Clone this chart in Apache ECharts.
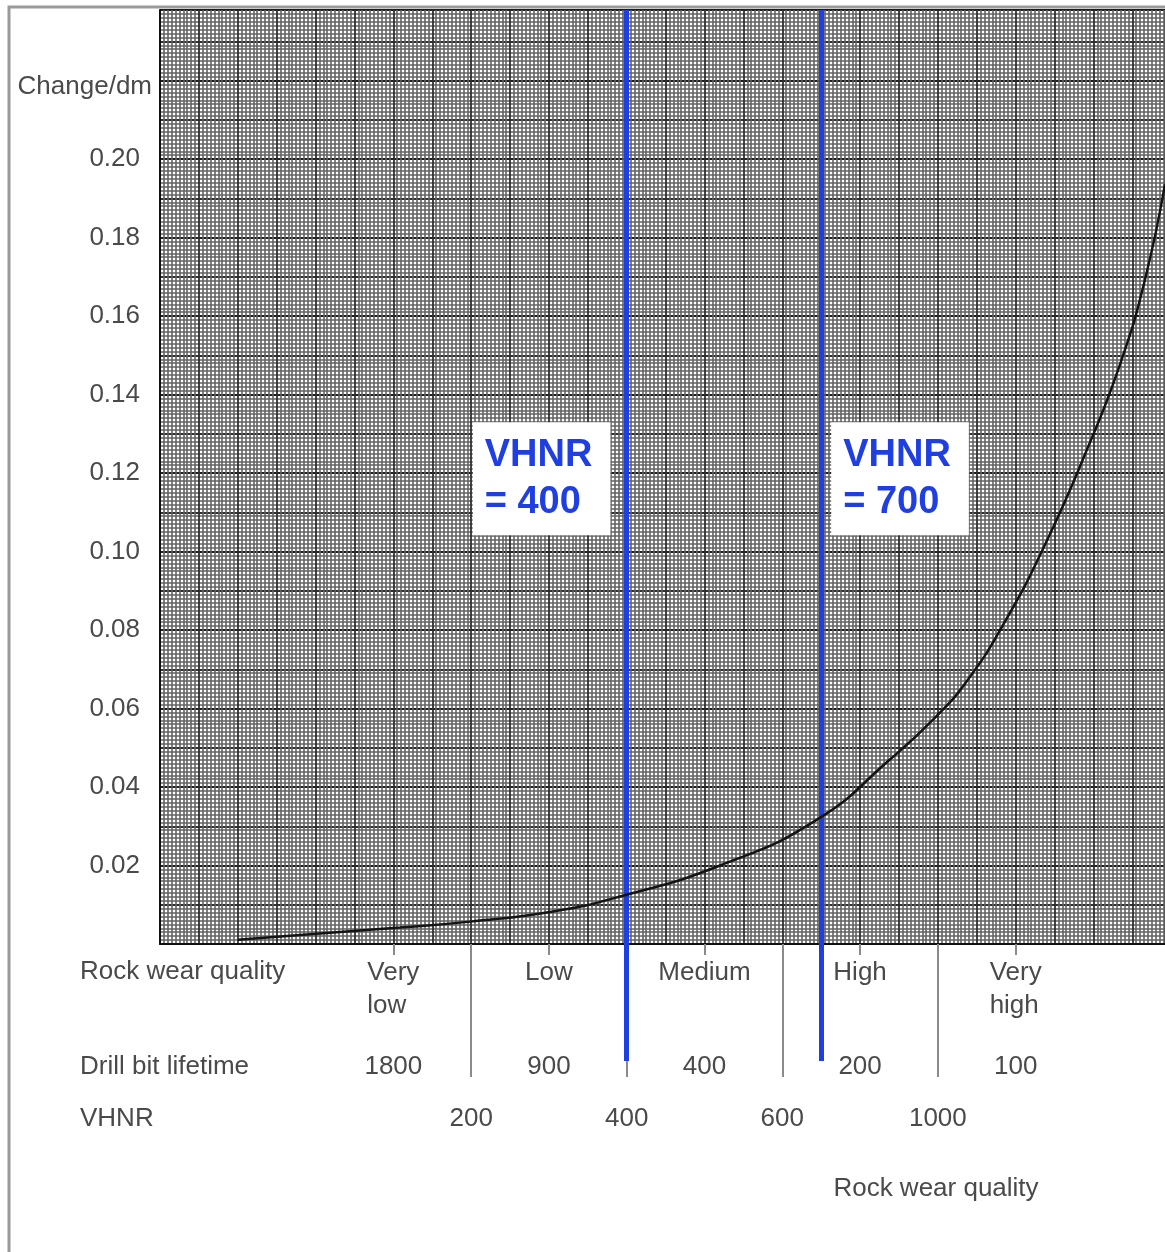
<!DOCTYPE html>
<html>
<head>
<meta charset="utf-8">
<script src="https://cdn.jsdelivr.net/npm/echarts@6/dist/echarts.min.js"></script>
<style>
  html, body { margin: 0; padding: 0; background: #ffffff; }
  #chart { width: 1165px; height: 1252px; }
</style>
</head>
<body>
<div id="chart"></div>
<script>
// Rock wear quality classes along the bottom scale (one unit of the x axis per class)
const rockWearClasses = ['Very\nlow', 'Low', 'Medium', 'High', 'Very\nhigh'];
// Drill bit lifetime for each class
const drillBitLifetime = ['1800', '900', '400', '200', '100'];
// VHNR values at the class boundaries
const vhnrTicks = [200, 400, 600, 1000];
// Marked VHNR values
const vhnrMarkers = [400, 700];

// Wear curve: position on the class scale and change per dm
const curvePos    = [0.501, 1.028, 1.543, 1.993, 2.526, 2.957, 3.600, 4.223, 4.692, 4.982, 5.194, 5.432, 5.689, 5.946, 6.171, 6.332, 6.460];
const curveChange = [0.0011, 0.0027, 0.0042, 0.0057, 0.0083, 0.0121, 0.0200, 0.0317, 0.0470, 0.0577, 0.0674, 0.0822, 0.1018, 0.1248, 0.1477, 0.1694, 0.1936];

// Class scale layout: class i spans [i + 1, i + 2]; boundaries sit on whole numbers
const FIRST_BOUNDARY = 2;
const classCenters = rockWearClasses.map((_, i) => FIRST_BOUNDARY - 0.5 + i);
const boundaryPos = vhnrTicks.map((_, i) => FIRST_BOUNDARY + i);

// VHNR -> class-scale position, linear between the boundary ticks
function vhnrPos(v) {
  for (let i = 0; i < vhnrTicks.length - 1; i++) {
    if (v <= vhnrTicks[i + 1]) {
      return boundaryPos[i] + (v - vhnrTicks[i]) / (vhnrTicks[i + 1] - vhnrTicks[i]);
    }
  }
  return boundaryPos[boundaryPos.length - 1];
}

const X_MAX = 6.46;
const Y_MAX = 0.238;
const Y_EXT_MIN = -0.0298;   // lower end of the marker overlay (same vertical scale)
const LABEL_LEVEL = 0.1187;  // height of the marker captions

const FONT = '"Liberation Sans", Arial, Helvetica, sans-serif';
const TEXT = '#4a4a4a';
const BLUE = '#1f3fe0';
const FS = 26;

const chart = echarts.init(document.getElementById('chart'), null, { renderer: 'canvas' });

const curveData = curvePos.map((p, i) => [p, curveChange[i]]);

// caption boxes: the first sits left of its rule, the second right of it
const captionOffsets = [[-154, -56], [10, -56]];
const markerLabels = vhnrMarkers.map((v, i) => ({
  coord: [vhnrPos(v), LABEL_LEVEL],
  symbol: 'rect',
  symbolSize: 0,
  label: {
    show: true,
    position: captionOffsets[i],
    formatter: 'VHNR\n= ' + v,
    backgroundColor: '#ffffff',
    padding: [10, 18, 9, 12],
    color: BLUE,
    fontFamily: FONT,
    fontWeight: 'bold',
    fontSize: 38,
    lineHeight: 47,
    align: 'left',
    verticalAlign: 'top'
  }
}));

const baseX = {
  type: 'value', min: 0, max: X_MAX, position: 'bottom',
  axisLine: { show: false, onZero: false },
  axisTick: { show: false },
  axisLabel: { show: false },
  splitLine: { show: false }
};

const GRID_MINOR = { color: '#626262', width: 1.6 };
const GRID_MAJOR = { color: '#303030', width: 1.8 };

const option = {
  animation: false,
  backgroundColor: '#ffffff',
  grid: [
    { left: 160, right: 0, top: 10, bottom: 308, containLabel: false },
    { left: 160, right: 0, top: 10, bottom: 191, containLabel: false }
  ],
  xAxis: [
    // grid paper, vertical rulings
    Object.assign({}, baseX, {
      gridIndex: 0, interval: 0.25,
      splitLine: { show: true, lineStyle: GRID_MAJOR },
      minorTick: { show: false, splitNumber: 10 },
      minorSplitLine: { show: true, lineStyle: GRID_MINOR }
    }),
    // axis line and class boundary rules
    Object.assign({}, baseX, {
      gridIndex: 0,
      axisLine: { show: true, onZero: false, lineStyle: { color: '#111111', width: 2 } },
      axisTick: { show: true, customValues: boundaryPos, length: 133, lineStyle: { color: '#8a8a8a', width: 2 } }
    }),
    // rock wear classes (two-line names keep their lines flush left)
    Object.assign({}, baseX, {
      gridIndex: 0,
      axisTick: { show: true, customValues: classCenters, length: 11, lineStyle: { color: '#8a8a8a', width: 2 } },
      axisLabel: {
        show: true, customValues: classCenters, margin: 12,
        formatter: (v) => rockWearClasses[Math.round(v - (FIRST_BOUNDARY - 0.5))]
          .split('\n').map((s) => '{c|' + s + '}').join('\n'),
        rich: {
          c: { color: TEXT, fontFamily: FONT, fontSize: FS, lineHeight: 33, align: 'left' }
        },
        color: TEXT, fontFamily: FONT, fontSize: FS, lineHeight: 33
      }
    }),
    // drill bit lifetime
    Object.assign({}, baseX, {
      gridIndex: 0,
      axisLabel: {
        show: true, customValues: classCenters, margin: 106,
        formatter: (v) => drillBitLifetime[Math.round(v - (FIRST_BOUNDARY - 0.5))],
        color: TEXT, fontFamily: FONT, fontSize: FS, lineHeight: 33
      }
    }),
    // VHNR
    Object.assign({}, baseX, {
      gridIndex: 0,
      axisLabel: {
        show: true, customValues: boundaryPos, margin: 158,
        formatter: (v) => String(vhnrTicks[Math.round(v - FIRST_BOUNDARY)]),
        color: TEXT, fontFamily: FONT, fontSize: FS, lineHeight: 33
      }
    }),
    // marker overlay
    Object.assign({}, baseX, { gridIndex: 1 })
  ],
  yAxis: [
    {
      type: 'value', gridIndex: 0, min: 0, max: Y_MAX, interval: 0.01, position: 'left',
      axisLine: { show: true, onZero: false, lineStyle: { color: '#111111', width: 2 } },
      axisTick: { show: false },
      axisLabel: {
        show: true, margin: 8, showMaxLabel: false,
        color: TEXT, fontFamily: FONT, fontSize: FS,
        formatter: (v) => {
          const r = Math.round(v * 1000);
          if (r === 220) return '{name|Change/dm}';
          if (r > 0 && r % 20 === 0) return '{num|' + v.toFixed(2) + '}';
          return '';
        },
        rich: {
          name: { color: TEXT, fontFamily: FONT, fontSize: FS, padding: [12, 0, 0, 0] },
          num: { color: TEXT, fontFamily: FONT, fontSize: FS, padding: [0, 12, 0, 0] }
        }
      },
      splitLine: { show: true, lineStyle: GRID_MAJOR },
      minorTick: { show: false, splitNumber: 10 },
      minorSplitLine: { show: true, lineStyle: GRID_MINOR }
    },
    {
      type: 'value', gridIndex: 0, min: 0, max: Y_MAX, interval: 0.02, position: 'left',
      axisLine: { show: false }, axisTick: { show: false }, axisLabel: { show: false },
      splitLine: { show: true, lineStyle: { color: '#1e1e1e', width: 2.2 } }
    },
    {
      type: 'value', gridIndex: 1, min: Y_EXT_MIN, max: Y_MAX, position: 'left',
      axisLine: { show: false }, axisTick: { show: false }, axisLabel: { show: false },
      splitLine: { show: false }
    }
  ],
  series: [
    {
      name: 'Change/dm',
      type: 'line',
      xAxisIndex: 0, yAxisIndex: 0,
      data: curveData,
      smooth: 0.5,
      showSymbol: false,
      symbol: 'none',
      lineStyle: { color: '#141414', width: 2.5 },
      z: 5
    },
    {
      name: 'VHNR',
      type: 'line',
      xAxisIndex: 5, yAxisIndex: 2,
      data: [],
      z: 10,
      markLine: {
        silent: true,
        symbol: ['none', 'none'],
        label: { show: false },
        lineStyle: { color: BLUE, width: 5, type: 'solid' },
        data: vhnrMarkers.map((v) => ({ xAxis: vhnrPos(v) }))
      },
      markPoint: {
        silent: true,
        data: markerLabels
      }
    }
  ],
  graphic: [
    {
      type: 'polyline', silent: true, z: 100,
      shape: { points: [[9, 1252], [9, 7], [1165, 7]] },
      style: { stroke: '#9a9a9a', lineWidth: 3, fill: null }
    },
    {
      type: 'text', x: 80, y: 972, silent: true,
      style: { text: 'Rock wear quality', fill: TEXT, font: FS + 'px ' + FONT, textVerticalAlign: 'middle' }
    },
    {
      type: 'text', x: 80, y: 1067, silent: true,
      style: { text: 'Drill bit lifetime', fill: TEXT, font: FS + 'px ' + FONT, textVerticalAlign: 'middle' }
    },
    {
      type: 'text', x: 80, y: 1119, silent: true,
      style: { text: 'VHNR', fill: TEXT, font: FS + 'px ' + FONT, textVerticalAlign: 'middle' }
    },
    {
      type: 'text', x: 936, y: 1189, silent: true,
      style: { text: 'Rock wear quality', fill: TEXT, font: FS + 'px ' + FONT, textAlign: 'center', textVerticalAlign: 'middle' }
    }
  ]
};

chart.setOption(option);
</script>
</body>
</html>
